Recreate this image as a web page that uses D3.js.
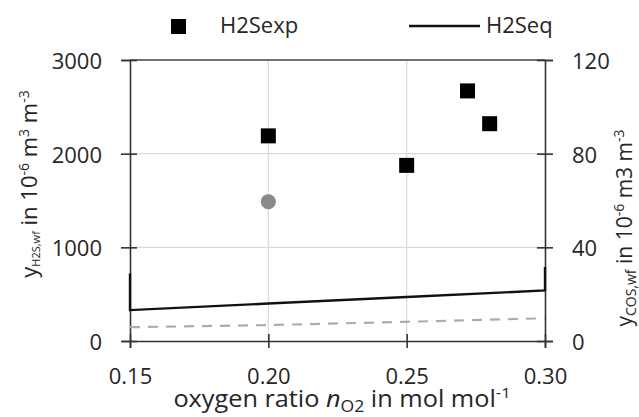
<!DOCTYPE html>
<html>
<head>
<meta charset="utf-8">
<script src="https://cdn.jsdelivr.net/npm/d3@7"></script>
<style>
  html, body { margin: 0; padding: 0; background: #fff; }
  svg text { font-family: "Open Sans", "Noto Sans", sans-serif; fill: #262626; }
</style>
</head>
<body>
<svg id="chart" width="639" height="417"></svg>
<script>
// Measured H2S concentrations (left axis)
const expX = [0.20, 0.25, 0.272, 0.28];
const expY = [2190, 1875, 2670, 2320];

// Equilibrium H2S (left axis); the series runs up the plot edges at both ends
const eqX = [0.15, 0.15, 0.20, 0.25, 0.30, 0.30];
const eqY = [720, 330, 400, 470, 540, 790];

// Equilibrium COS (right axis, dashed)
const cosEqX = [0.15, 0.20, 0.25, 0.30];
const cosEqY = [5.9, 6.8, 8.2, 9.7];

// Measured COS (right axis, grey dot)
const cosExpX = [0.20];
const cosExpY = [59.5];

const xTicks = [0.15, 0.20, 0.25, 0.30];
const yLeftTicks = [0, 1000, 2000, 3000];
const yRightTicks = [0, 40, 80, 120];

const svg = d3.select("#chart");
const plot = { left: 130, right: 545, top: 60, bottom: 341 };

const x = d3.scaleLinear().domain([0.15, 0.30]).range([plot.left, plot.right]);
const yL = d3.scaleLinear().domain([0, 3000]).range([plot.bottom, plot.top]);
const yR = d3.scaleLinear().domain([0, 120]).range([plot.bottom, plot.top]);

const FS = 22;
const axisColor = "#333";

// gridlines
const grid = svg.append("g");
grid.selectAll("line.h").data([1000, 2000]).join("line")
  .attr("x1", plot.left).attr("x2", plot.right)
  .attr("y1", d => yL(d)).attr("y2", d => yL(d))
  .attr("stroke", "#d9d9d9").attr("stroke-width", 1.2);
grid.selectAll("line.v").data([0.20, 0.25]).join("line")
  .attr("x1", d => x(d)).attr("x2", d => x(d))
  .attr("y1", plot.top).attr("y2", plot.bottom)
  .attr("stroke", "#d9d9d9").attr("stroke-width", 1.2);
// top frame line
grid.append("line")
  .attr("x1", plot.left).attr("x2", plot.right)
  .attr("y1", yL(3000)).attr("y2", yL(3000))
  .attr("stroke", "#444").attr("stroke-width", 1.5);

// axes with ticks crossing the axis line
function styleAxis(g) {
  g.select(".domain").attr("stroke", axisColor).attr("stroke-width", 1.6);
  g.selectAll(".tick line").attr("stroke", axisColor).attr("stroke-width", 1.6);
  g.selectAll(".tick text").attr("font-size", FS).attr("fill", "#262626")
    .attr("font-family", "'Open Sans', sans-serif");
}

const gLeft = svg.append("g").attr("transform", `translate(${plot.left},0)`)
  .call(d3.axisLeft(yL).tickValues(yLeftTicks).tickFormat(d3.format("d")).tickSizeOuter(0).tickSize(8));
styleAxis(gLeft);
gLeft.selectAll(".tick line").attr("x1", -9).attr("x2", 7);
gLeft.selectAll(".tick text").attr("x", -28).attr("dy", "0.38em");

const gRight = svg.append("g").attr("transform", `translate(${plot.right},0)`)
  .call(d3.axisRight(yR).tickValues(yRightTicks).tickFormat(d3.format("d")).tickSizeOuter(0).tickSize(8));
styleAxis(gRight);
gRight.selectAll(".tick line").attr("x1", -8).attr("x2", 8);
gRight.selectAll(".tick text").attr("x", 27).attr("dy", "0.38em");

const gBottom = svg.append("g").attr("transform", `translate(0,${plot.bottom})`)
  .call(d3.axisBottom(x).tickValues(xTicks).tickFormat(d3.format(".2f")).tickSizeOuter(0).tickSize(7));
styleAxis(gBottom);
gBottom.selectAll(".tick line").attr("y1", -7).attr("y2", 7);
gBottom.selectAll(".tick text").attr("y", 27).attr("dy", "0.71em");

// COS equilibrium (dashed)
svg.append("path")
  .datum(cosEqX.map((v, i) => [v, cosEqY[i]]))
  .attr("fill", "none").attr("stroke", "#acacac").attr("stroke-width", 2.2)
  .attr("stroke-dasharray", "10,8")
  .attr("d", d3.line().x(d => x(d[0])).y(d => yR(d[1])));

// H2S equilibrium (solid)
svg.append("path")
  .datum(eqX.map((v, i) => [v, eqY[i]]))
  .attr("fill", "none").attr("stroke", "#111").attr("stroke-width", 2.4)
  .attr("d", d3.line().x(d => x(d[0])).y(d => yL(d[1])));

// COS measured
svg.selectAll("circle.cos").data(cosExpX.map((v, i) => [v, cosExpY[i]])).join("circle")
  .attr("cx", d => x(d[0])).attr("cy", d => yR(d[1])).attr("r", 7.5)
  .attr("fill", "#8a8a8a");

// H2S measured
const sq = 15;
svg.selectAll("rect.exp").data(expX.map((v, i) => [v, expY[i]])).join("rect")
  .attr("x", d => x(d[0]) - sq / 2).attr("y", d => yL(d[1]) - sq / 2)
  .attr("width", sq).attr("height", sq).attr("fill", "#000");

// legend
const lg = svg.append("g");
lg.append("rect").attr("x", 171).attr("y", 19).attr("width", 15).attr("height", 15).attr("fill", "#000");
lg.append("text").attr("x", 220).attr("y", 33).attr("font-size", FS).text("H2Sexp");
lg.append("line").attr("x1", 409).attr("x2", 480).attr("y1", 26).attr("y2", 26)
  .attr("stroke", "#111").attr("stroke-width", 2.6);
lg.append("text").attr("x", 486).attr("y", 33).attr("font-size", FS).text("H2Seq");

// x axis title (slightly widened)
const xt = svg.append("text")
  .attr("transform", "translate(342,407) scale(1.1,1)")
  .attr("text-anchor", "middle").attr("font-size", 23);
xt.append("tspan").text("oxygen ratio ");
xt.append("tspan").attr("font-style", "italic").text("n");
xt.append("tspan").attr("font-size", 16).attr("dy", 5).text("O2");
xt.append("tspan").attr("dy", -5).text(" in mol mol");
xt.append("tspan").attr("font-size", 15).attr("dy", -9).text("-1");

// left axis title
const yt = svg.append("text")
  .attr("transform", "translate(37,184) rotate(-90)")
  .attr("text-anchor", "middle").attr("font-size", FS);
yt.append("tspan").text("y");
yt.append("tspan").attr("font-size", 11).attr("dy", 3).text("H2S,wf");
yt.append("tspan").attr("dy", -3).text(" in 10");
yt.append("tspan").attr("font-size", 14).attr("dy", -8).text("-6");
yt.append("tspan").attr("dy", 8).text(" m");
yt.append("tspan").attr("font-size", 14).attr("dy", -8).text("3");
yt.append("tspan").attr("dy", 8).text(" m");
yt.append("tspan").attr("font-size", 14).attr("dy", -8).text("-3");

// right axis title
const rt = svg.append("text")
  .attr("transform", "translate(632,228) rotate(-90)")
  .attr("text-anchor", "middle").attr("font-size", 21);
rt.append("tspan").text("y");
rt.append("tspan").attr("font-size", 14).attr("dy", 4).text("COS,wf");
rt.append("tspan").attr("dy", -4).text(" in 10");
rt.append("tspan").attr("font-size", 14).attr("dy", -8).text("-6");
rt.append("tspan").attr("dy", 8).text(" m3 m");
rt.append("tspan").attr("font-size", 14).attr("dy", -8).text("-3");
</script>
</body>
</html>
